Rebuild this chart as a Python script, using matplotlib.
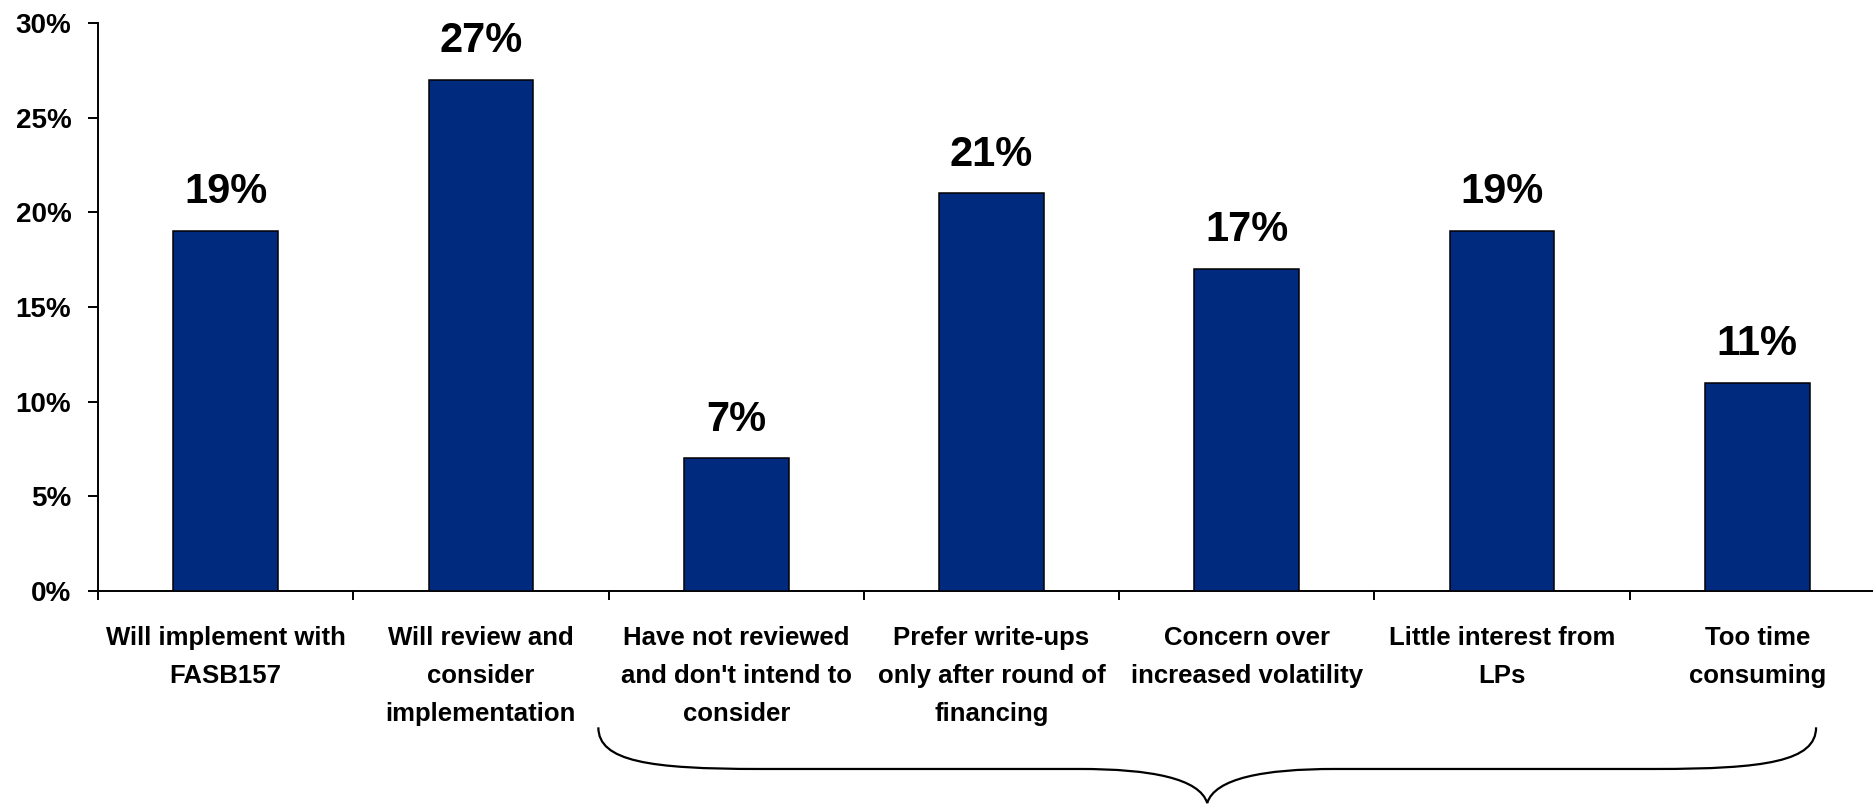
import matplotlib
matplotlib.use("Agg")
import matplotlib.pyplot as plt
from matplotlib import font_manager
from matplotlib.path import Path
from matplotlib.patches import PathPatch
from matplotlib.ticker import FuncFormatter, FixedLocator

# Survey responses on adopting FASB157-style valuation
categories = [
    "Will implement with\nFASB157",
    "Will review and\nconsider\nimplementation",
    "Have not reviewed\nand don't intend to\nconsider",
    "Prefer write-ups\nonly after round of\nfinancing",
    "Concern over\nincreased volatility",
    "Little interest from\nLPs",
    "Too time\nconsuming",
]
shares = [19, 27, 7, 21, 17, 19, 11]
y_ticks = [0, 5, 10, 15, 20, 25, 30]

installed = {f.name for f in font_manager.fontManager.ttflist}
base_font = "Liberation Sans"
narrow_font = "Liberation Sans Narrow" if "Liberation Sans Narrow" in installed else base_font
plt.rcParams["font.family"] = [base_font, "DejaVu Sans"]

W, H = 1874, 805
fig = plt.figure(figsize=(W / 100, H / 100), dpi=100)
ax = fig.add_axes([98 / W, 214 / H, 1787 / W, 568 / H])

x = list(range(len(categories)))
ax.bar(x, shares, width=0.41, color="#002A7E", edgecolor="black", linewidth=1.1, zorder=3)

ax.set_xlim(-0.5, len(categories) - 0.5)
ax.set_ylim(0, 30)

# y axis
ax.yaxis.set_major_locator(FixedLocator(y_ticks))
ax.yaxis.set_major_formatter(FuncFormatter(lambda v, _: f"{v:.0f}%"))
ax.tick_params(axis="y", which="major", direction="out", length=7.2, width=1.4,
               pad=12, labelsize=20, colors="black")
for lab in ax.get_yticklabels():
    lab.set_fontweight("bold")

# x axis: separators between categories, labels centred below bars
ax.set_xticks(x)
ax.set_xticklabels(categories, fontsize=18.5, fontweight="bold", linespacing=1.75)
ax.set_xticks([i - 0.5 for i in range(len(categories))], minor=True)
ax.tick_params(axis="x", which="major", length=0, pad=25)
ax.tick_params(axis="x", which="minor", direction="out", length=6.5, width=1.4)

for side in ("top", "right"):
    ax.spines[side].set_visible(False)
for side in ("left", "bottom"):
    ax.spines[side].set_linewidth(1.4)
    ax.spines[side].set_color("black")

# value labels above bars
fs_val = 30 if narrow_font == base_font else 31
for xi, v in zip(x, shares):
    ax.annotate(f"{v}%", xy=(xi, v), xytext=(0, 20), textcoords="offset points",
                ha="center", va="baseline", fontsize=fs_val, fontweight="bold",
                family=[narrow_font, "DejaVu Sans"])

# curly brace grouping the reasons for not adopting
bx0, bx1 = 2 - 0.54, 6 + 0.23
bmid = (bx0 + bx1) / 2
y_top, y_line, y_tip = -7.2, -9.4, -11.2
arm = 0.63
verts = [
    (bx0, y_top),
    (bx0, y_line + 0.4), (bx0 + 0.2, y_line), (bx0 + arm, y_line),
    (bmid - 0.5, y_line),
    (bmid - 0.22, y_line), (bmid - 0.03, y_line - 0.5), (bmid, y_tip),
    (bmid + 0.03, y_line - 0.5), (bmid + 0.22, y_line), (bmid + 0.5, y_line),
    (bx1 - arm, y_line),
    (bx1 - 0.2, y_line), (bx1, y_line + 0.4), (bx1, y_top),
]
codes = [Path.MOVETO,
         Path.CURVE4, Path.CURVE4, Path.CURVE4,
         Path.LINETO,
         Path.CURVE4, Path.CURVE4, Path.CURVE4,
         Path.CURVE4, Path.CURVE4, Path.CURVE4,
         Path.LINETO,
         Path.CURVE4, Path.CURVE4, Path.CURVE4]
brace = PathPatch(Path(verts, codes), facecolor="none", edgecolor="black",
                  linewidth=1.6, clip_on=False, transform=ax.transData)
ax.add_patch(brace)

fig.savefig("out.png", dpi=100)
